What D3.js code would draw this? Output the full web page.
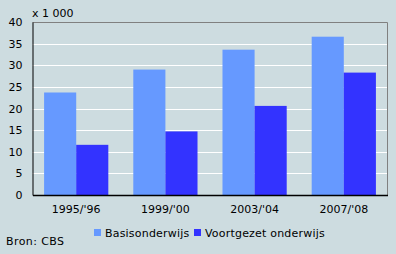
<!DOCTYPE html>
<html><head><meta charset="utf-8">
<script src="https://cdn.jsdelivr.net/npm/d3@7/dist/d3.min.js"></script>
<style>body{margin:0;background:#cddce0;}svg{display:block;}</style>
</head><body>
<script>
const categories = ["1995/'96", "1999/'00", "2003/'04", "2007/'08"];
const seriesNames = ["Basisonderwijs", "Voortgezet onderwijs"];
const basis = [23.7, 29.0, 33.6, 36.6];
const voortgezet = [11.6, 14.7, 20.6, 28.3];
const yTicks = [0, 5, 10, 15, 20, 25, 30, 35, 40];
const colors = ["#6699ff", "#3333ff"];

const W = 396, H = 254;
const m = {left: 32.5, right: 8.5, top: 22, bottom: 59};
const svg = d3.select("body").append("svg").attr("width", W).attr("height", H)
  .style("font-family", "'DejaVu Sans', Verdana, sans-serif").style("font-size", "11px");
svg.append("rect").attr("width", W).attr("height", H).attr("fill", "#cddce0");

const x = d3.scaleBand().domain(categories).range([m.left, W - m.right]).paddingInner(0.28).paddingOuter(0.13);
const xs = d3.scaleBand().domain(seriesNames).range([0, x.bandwidth()]);
const y = d3.scaleLinear().domain([0, 40]).range([H - m.bottom, m.top]);

// gridlines
svg.append("g").selectAll("line").data(yTicks.filter(d => d > 0 && d < 40)).join("line")
  .attr("x1", m.left).attr("x2", W - m.right)
  .attr("y1", d => Math.round(y(d)) + 0.5).attr("y2", d => Math.round(y(d)) + 0.5)
  .attr("stroke", "#ffffff").attr("stroke-width", 1);

// top & right border
svg.append("path")
  .attr("d", `M${m.left},${Math.round(y(40)) + 0.5}H${W - m.right}V${H - m.bottom}`)
  .attr("fill", "none").attr("stroke", "#808080");

const data = categories.map((c, i) => ({c, vals: [basis[i], voortgezet[i]]}));
svg.append("g").selectAll("g").data(data).join("g")
  .attr("transform", d => `translate(${x(d.c)},0)`)
  .selectAll("rect").data(d => d.vals.map((v, j) => ({v, s: seriesNames[j], j}))).join("rect")
  .attr("x", d => xs(d.s)).attr("width", xs.bandwidth())
  .attr("y", d => y(d.v)).attr("height", d => y(0) - y(d.v))
  .attr("fill", d => colors[d.j]);

// y axis
const yAxis = svg.append("g").attr("transform", `translate(${m.left},0)`)
  .call(d3.axisLeft(y).tickValues(yTicks).tickSize(0).tickPadding(10));
yAxis.select(".domain").attr("stroke", "#000");
yAxis.selectAll("text").attr("fill", "#000").style("font-size", "11px").style("font-family", "'DejaVu Sans', Verdana, sans-serif");

// x axis
const xAxis = svg.append("g").attr("transform", `translate(0,${H - m.bottom})`)
  .call(d3.axisBottom(x).tickSize(0).tickPadding(10));
xAxis.select(".domain").attr("stroke", "#000").attr("stroke-width", 1.5);
xAxis.selectAll("text").attr("fill", "#000").style("font-size", "11px").style("font-family", "'DejaVu Sans', Verdana, sans-serif");

svg.append("text").attr("x", 32).attr("y", 17).text("x 1 000").attr("fill", "#000");

// legend
const lx = [94, 194];
const leg = svg.append("g").selectAll("g").data(seriesNames).join("g")
  .attr("transform", (d, i) => `translate(${lx[i]},229)`);
leg.append("rect").attr("width", 7).attr("height", 7).attr("fill", (d, i) => colors[i]);
leg.append("text").attr("x", 11).attr("y", 7.5).text(d => d).attr("fill", "#000").style("letter-spacing", "0.2px");

svg.append("text").attr("x", 6).attr("y", 245).text("Bron: CBS").attr("fill", "#000").style("letter-spacing", "0.4px");
</script>
</body></html>
